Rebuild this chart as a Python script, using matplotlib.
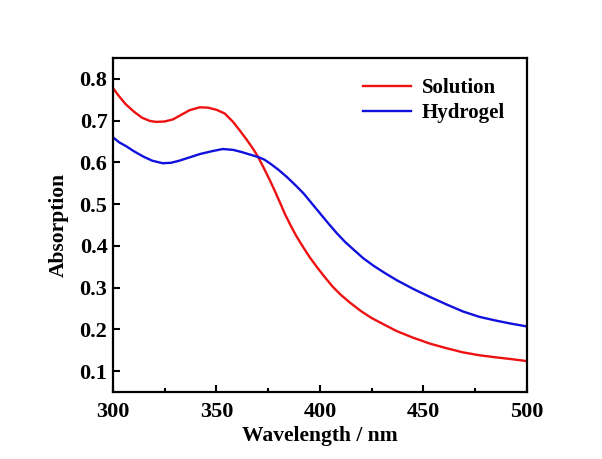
import matplotlib
matplotlib.use("Agg")
import matplotlib.pyplot as plt
from matplotlib.ticker import MultipleLocator

plt.rcParams['font.family'] = ['Liberation Serif', 'DejaVu Serif']
plt.rcParams['font.weight'] = 'bold'

wl_sol = [300, 303, 306, 310, 314, 318, 321, 325, 329, 333, 337, 342, 346, 350, 354, 358, 361, 364.5,
          368, 370, 373, 376, 378.5, 381, 383, 385.5, 388.5, 392, 395, 398.4, 402, 406, 410, 414.5,
          420, 425, 430, 437, 445, 453, 461, 469, 477, 485, 492, 500]
solution = [0.778, 0.758, 0.740, 0.722, 0.707, 0.699, 0.697, 0.698, 0.703, 0.714, 0.725, 0.732, 0.731,
            0.726, 0.717, 0.697, 0.678, 0.655, 0.630, 0.614, 0.585, 0.555, 0.528, 0.500, 0.477, 0.452,
            0.424, 0.396, 0.373, 0.350, 0.327, 0.303, 0.283, 0.264, 0.243, 0.227, 0.214, 0.196, 0.180,
            0.166, 0.155, 0.145, 0.138, 0.133, 0.129, 0.124]

wl_gel = [300, 303, 306.6, 310, 314.6, 319, 324, 328, 332, 337, 342, 348, 353, 358, 362, 366, 370, 373,
          376, 380, 384, 388, 392, 396, 400, 404, 408, 412, 416, 421, 426, 431, 437, 445, 453, 461, 469,
          477, 485, 492, 500]
hydrogel = [0.660, 0.648, 0.638, 0.627, 0.614, 0.604, 0.598, 0.599, 0.604, 0.612, 0.620, 0.627, 0.632,
            0.630, 0.625, 0.619, 0.613, 0.607, 0.597, 0.582, 0.565, 0.546, 0.526, 0.502, 0.478, 0.454,
            0.431, 0.410, 0.392, 0.370, 0.352, 0.336, 0.318, 0.297, 0.278, 0.260, 0.243, 0.230, 0.221,
            0.214, 0.207]

fig = plt.figure(figsize=(6.02, 4.59), dpi=100)
ax = fig.add_axes([0.1877, 0.146, 0.6877, 0.7276])
ax.plot(wl_sol, solution, color='#ee1111', lw=1.7, label='Solution')
ax.plot(wl_gel, hydrogel, color='#1111dd', lw=1.7, label='Hydrogel')

ax.set_xlim(300, 500)
ax.set_ylim(0.05, 0.85)
ax.xaxis.set_major_locator(MultipleLocator(50))
ax.xaxis.set_minor_locator(MultipleLocator(25))
ax.yaxis.set_major_locator(MultipleLocator(0.1))
ax.tick_params(axis='both', which='both', direction='in', top=False, right=False, labelsize=16, width=1.5)
ax.tick_params(which='major', length=5)
ax.tick_params(which='minor', length=3)
ax.tick_params(axis='x', pad=7)
ax.tick_params(axis='y', pad=4)
for sp in ax.spines.values():
    sp.set_linewidth(1.6)
ax.set_xlabel('Wavelength / nm', fontsize=15.5, fontweight='bold')
ax.set_ylabel('Absorption', fontsize=15.5, fontweight='bold')
ax.xaxis.set_label_coords(0.5, (392 - 436) / 334, transform=ax.transAxes)
ax.yaxis.set_label_coords((59 - 113) / 414, 0.5, transform=ax.transAxes)
ax.xaxis.label.set_va('center')
ax.yaxis.label.set_va('center')
for lab in ax.get_xticklabels() + ax.get_yticklabels():
    lab.set_fontweight('bold')

ax.legend(loc='upper right', frameon=False, fontsize=15, handlelength=2.3, handletextpad=0.5,
          bbox_to_anchor=(0.947, 0.94), borderaxespad=0, borderpad=0, labelspacing=0.25)

fig.savefig('out.png', dpi=100)
